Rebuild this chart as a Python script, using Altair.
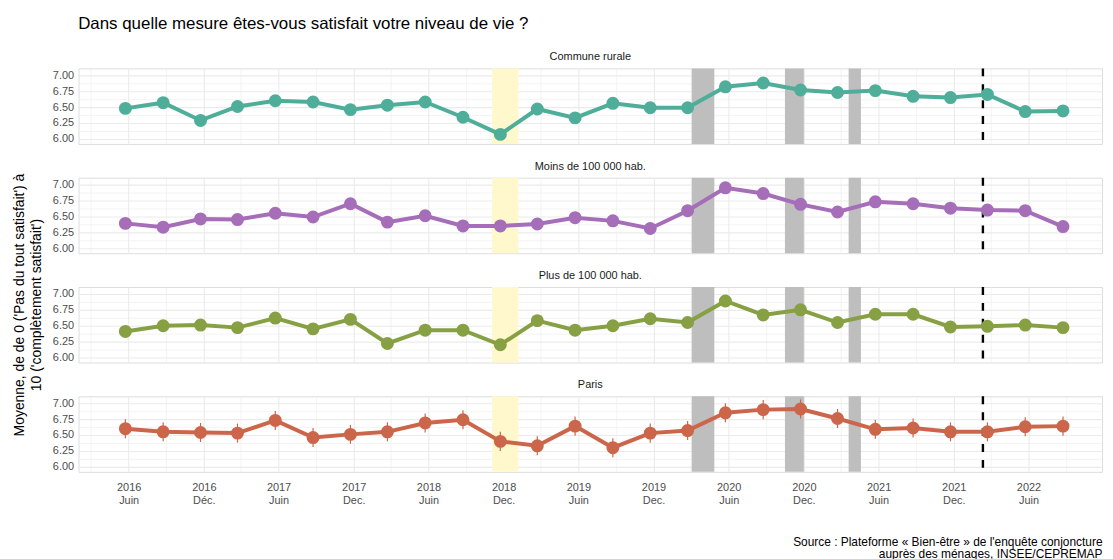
import json
import altair as alt
import pandas as pd

title_text = "Dans quelle mesure êtes-vous satisfait votre niveau de vie ?"
y_title = ["Moyenne, de de 0 ('Pas du tout satisfait') à", "10 ('complètement satisfait')"]
caption = ["Source : Plateforme « Bien-être » de l'enquête conjoncture",
           "auprès des ménages, INSEE/CEPREMAP"]

groups = ["Commune rurale", "Moins de 100 000 hab.", "Plus de 100 000 hab.", "Paris"]
colors = ["#4FAE99", "#A66DB8", "#87A044", "#CB664A"]

periods = ["2016-06", "2016-09", "2016-12", "2017-03", "2017-06", "2017-09", "2017-12",
           "2018-03", "2018-06", "2018-09", "2018-12", "2019-03", "2019-06", "2019-09",
           "2019-12", "2020-03", "2020-06", "2020-09", "2020-12", "2021-03", "2021-06",
           "2021-09", "2021-12", "2022-03", "2022-06", "2022-09"]

rural = [6.48, 6.57, 6.29, 6.51, 6.60, 6.58, 6.46, 6.53, 6.58, 6.34, 6.07, 6.47, 6.33,
         6.56, 6.49, 6.49, 6.82, 6.88, 6.77, 6.73, 6.76, 6.67, 6.65, 6.70, 6.43, 6.44]
moins = [6.39, 6.33, 6.46, 6.45, 6.55, 6.49, 6.70, 6.41, 6.51, 6.35, 6.35, 6.38, 6.48,
         6.43, 6.31, 6.59, 6.95, 6.86, 6.69, 6.57, 6.73, 6.70, 6.63, 6.60, 6.59, 6.34]
plus = [6.41, 6.50, 6.51, 6.47, 6.62, 6.45, 6.60, 6.22, 6.43, 6.43, 6.20, 6.58, 6.43,
        6.50, 6.61, 6.55, 6.89, 6.67, 6.75, 6.55, 6.68, 6.68, 6.48, 6.49, 6.51, 6.47]
paris = [6.60, 6.55, 6.54, 6.53, 6.73, 6.46, 6.51, 6.55, 6.69, 6.74, 6.40, 6.33, 6.64,
         6.30, 6.53, 6.57, 6.85, 6.90, 6.91, 6.76, 6.59, 6.61, 6.55, 6.55, 6.63, 6.64]
half_ci = [0.08, 0.07, 0.08, 0.15]

gilets_jaunes = ("2018-11-17", "2019-01-20")
confinements = [("2020-03-17", "2020-05-11"), ("2020-10-30", "2020-12-15"),
                ("2021-04-03", "2021-05-03")]
invasion = "2022-02-24"

tick_months = ["2016-03", "2016-06", "2016-09", "2016-12", "2017-03", "2017-06", "2017-09",
               "2017-12", "2018-03", "2018-06", "2018-09", "2018-12", "2019-03", "2019-06",
               "2019-09", "2019-12", "2020-03", "2020-06", "2020-09", "2020-12", "2021-03",
               "2021-06", "2021-09", "2021-12", "2022-03", "2022-06", "2022-09"]
tick_labels = ["", ["2016", "Juin"], "", ["2016", "Déc."], "", ["2017", "Juin"], "",
               ["2017", "Dec."], "", ["2018", "Juin"], "", ["2018", "Dec."], "",
               ["2019", "Juin"], "", ["2019", "Dec."], "", ["2020", "Juin"], "",
               ["2020", "Dec."], "", ["2021", "Juin"], "", ["2021", "Dec."], "",
               ["2022", "Juin"], ""]
y_ticks = [6.0, 6.125, 6.25, 6.375, 6.5, 6.625, 6.75, 6.875, 7.0]

# ---- build table ----
rows = []
for g, vals, h in zip(groups, [rural, moins, plus, paris], half_ci):
    for p, v in zip(periods, vals):
        rows.append(dict(kind="pt", group=g, date=p + "-07", date2=None,
                         value=v, lo=v - h, hi=v + h))
    rows.append(dict(kind="gj", group=g, date=gilets_jaunes[0], date2=gilets_jaunes[1]))
    for s, e in confinements:
        rows.append(dict(kind="conf", group=g, date=s, date2=e))
    rows.append(dict(kind="war", group=g, date=invasion, date2=None))
df = pd.DataFrame(rows)

FONT = "Liberation Sans"
W, H = 1030, 76

label_expr = "{}[indexof({}, timeFormat(datum.value, '%Y-%m'))]".format(
    json.dumps(tick_labels, ensure_ascii=False), json.dumps(tick_months))

x_scale = alt.Scale(domain=[alt.DateTime(year=2016, month=2, date=14),
                            alt.DateTime(year=2022, month=12, date=11)])
x_axis = alt.Axis(
    values=[alt.DateTime(year=int(m[:4]), month=int(m[5:]), date=15) for m in tick_months],
    labelExpr=label_expr, grid=True, gridColor="#EBEBEB",
    gridWidth={"condition": {"test": "month(datum.value) % 6 == 5", "value": 1.1}, "value": 0.55},
    ticks=False, domain=False, labelFontSize=11, labelColor="#4D4D4D", labelPadding=8,
    labelLineHeight=13, labelFont=FONT,
    title=caption, titleFontSize=12, titleFontWeight="normal", titleColor="#000000",
    titleAnchor="end", titlePadding=31, titleFont=FONT, titleLineHeight=12)
x_enc = alt.X("date:T", scale=x_scale, axis=x_axis)

y_scale = alt.Scale(domain=[5.92, 7.11], nice=False, zero=False)
y_axis = alt.Axis(values=y_ticks, title=None,
                  labelExpr="(datum.value * 4) % 1 == 0 ? format(datum.value, '.2f') : ''",
                  grid=True, gridColor="#EBEBEB",
                  gridWidth={"condition": {"test": "(datum.value * 4) % 1 == 0", "value": 1.1},
                             "value": 0.55},
                  ticks=False, domain=False, labelFontSize=11, labelColor="#4D4D4D",
                  labelPadding=4, labelFont=FONT)

color_enc = alt.Color("group:N", scale=alt.Scale(domain=groups, range=colors), legend=None)

base = alt.Chart()

gj = base.mark_rect(color="#FFF8CC").encode(x=x_enc, x2="date2:T").transform_filter(
    "datum.kind == 'gj'")
conf = base.mark_rect(color="#BEBEBE").encode(x=x_enc, x2="date2:T").transform_filter(
    "datum.kind == 'conf'")
war = base.mark_rule(color="black", strokeWidth=2.4, strokeDash=[8, 8]).encode(
    x=x_enc).transform_filter("datum.kind == 'war'")
pts_base = base.transform_filter("datum.kind == 'pt'")
err = pts_base.mark_rule(strokeWidth=1.2).encode(
    x=x_enc, y=alt.Y("lo:Q", scale=y_scale, axis=y_axis), y2="hi:Q", color=color_enc)
line = pts_base.mark_line(strokeWidth=4).encode(
    x=x_enc, y=alt.Y("value:Q", scale=y_scale, axis=y_axis), color=color_enc)
pts = pts_base.mark_circle(size=170, opacity=1).encode(
    x=x_enc, y=alt.Y("value:Q", scale=y_scale, axis=y_axis), color=color_enc)

layered = alt.layer(gj, conf, war, err, line, pts).properties(width=W, height=H)

facet = layered.facet(
    facet=alt.Facet("group:N", sort=groups,
                    header=alt.Header(title=None, labelFontSize=11, labelColor="#1A1A1A",
                                      labelFont=FONT, labelPadding=5)),
    columns=1, data=df, spacing=14,
).properties(
    title=alt.TitleParams(y_title, orient="left", anchor="middle", fontSize=14,
                          fontWeight="normal", color="#000000", font=FONT, lineHeight=17,
                          offset=8)
)

chart = alt.vconcat(facet).properties(
    title=alt.TitleParams(title_text, anchor="start", fontSize=17, fontWeight="normal",
                          color="#000000", font=FONT, dx=65, offset=18),
    padding={"left": 5, "top": 5, "right": 2, "bottom": 5},
    background="white",
).configure_view(stroke=None).configure(font=FONT)

chart.save("out.html", embed_options={"renderer": "svg", "actions": False})
